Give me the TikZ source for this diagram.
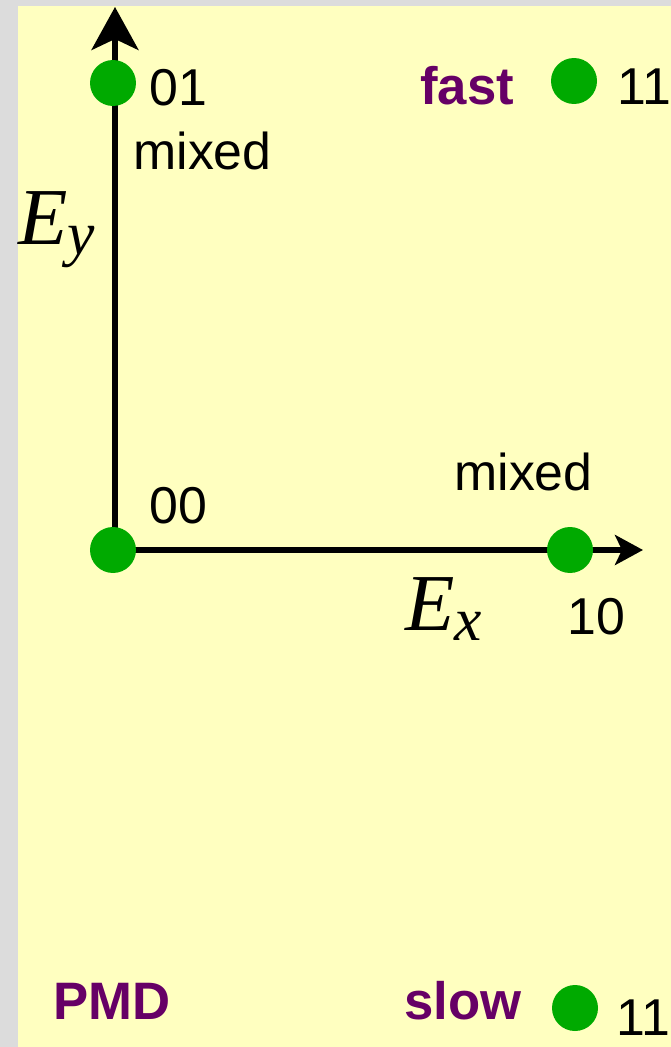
\documentclass[tikz,border=0pt]{standalone}
\usepackage{fontspec}
\setmainfont{Liberation Sans}
\newfontfamily\serifChamp{Liberation Serif}
\usetikzlibrary{arrows.meta, positioning}

\definecolor{fondGris}{RGB}{220,220,220}
\definecolor{fondJaune}{RGB}{255,255,192}
\definecolor{vertPol}{RGB}{0,170,0}
\definecolor{violetMode}{RGB}{102,0,102}

\newcommand{\champE}[1]{E\raisebox{-0.2cm}{\fontsize{35}{37}\selectfont #1}}

\begin{document}
\begin{tikzpicture}[
  x=0.02cm, y=-0.02cm,
  pol/.style={circle, fill=vertPol, minimum size=0.92cm, inner sep=0pt},
  lbl/.style={anchor=base west, inner sep=0pt, font=\fontsize{29.5}{31}\selectfont},
  mode/.style={lbl, font=\fontsize{30}{32}\selectfont\bfseries, text=violetMode},
  champ/.style={anchor=base west, inner sep=0pt, font=\fontsize{46}{48}\selectfont\serifChamp\itshape},
  axeY/.style={line width=0.11cm, -{Stealth[length=0.86cm, width=0.94cm, inset=0.22cm]}},
  axeX/.style={line width=0.11cm, -{Stealth[length=0.56cm, width=0.6cm, inset=0.14cm]}}
]
\useasboundingbox (0,0) rectangle (671,1047);
\fill[fondGris] (0,0) rectangle (671,1047);
\fill[fondJaune] (18,6) rectangle (671,1047);

\coordinate (orig) at (115,550);
\coordinate (tipY) at (115,7);
\coordinate (tipX) at (643,550);

\draw[axeY] (orig) -- (tipY);
\draw[axeX] (orig) -- (tipX);

\node[pol] (p00) at (113,550) {};
\node[pol] (p01) at (113,83) {};
\node[pol] (p10) at (570,550) {};
\node[pol] (p11h) at (574,81) {};
\node[pol] (p11b) at (575,1008) {};

\node[lbl] (l01) at (149,106) {01};
\node[lbl] (mix01) at (133,170) {mixed};
\node[mode] (fast) at (420,105) {fast};
\node[lbl] (l11h) at (617,105) {11};
\node[lbl] (l00) at (149,523) {00};
\node[lbl] (mix10) at (454,490) {mixed};
\node[lbl] (l10) at (567,634) {10};
\node[champ] (ex) at (405,630) {\champE{x}};
\node[champ] (ey) at (18,245) {\champE{y}};
\node[mode] (pmd) at (53,1019) {PMD};
\node[mode] (slow) at (404,1019) {slow};
\node[lbl] (l11b) at (616,1035) {11};
\end{tikzpicture}
\end{document}
